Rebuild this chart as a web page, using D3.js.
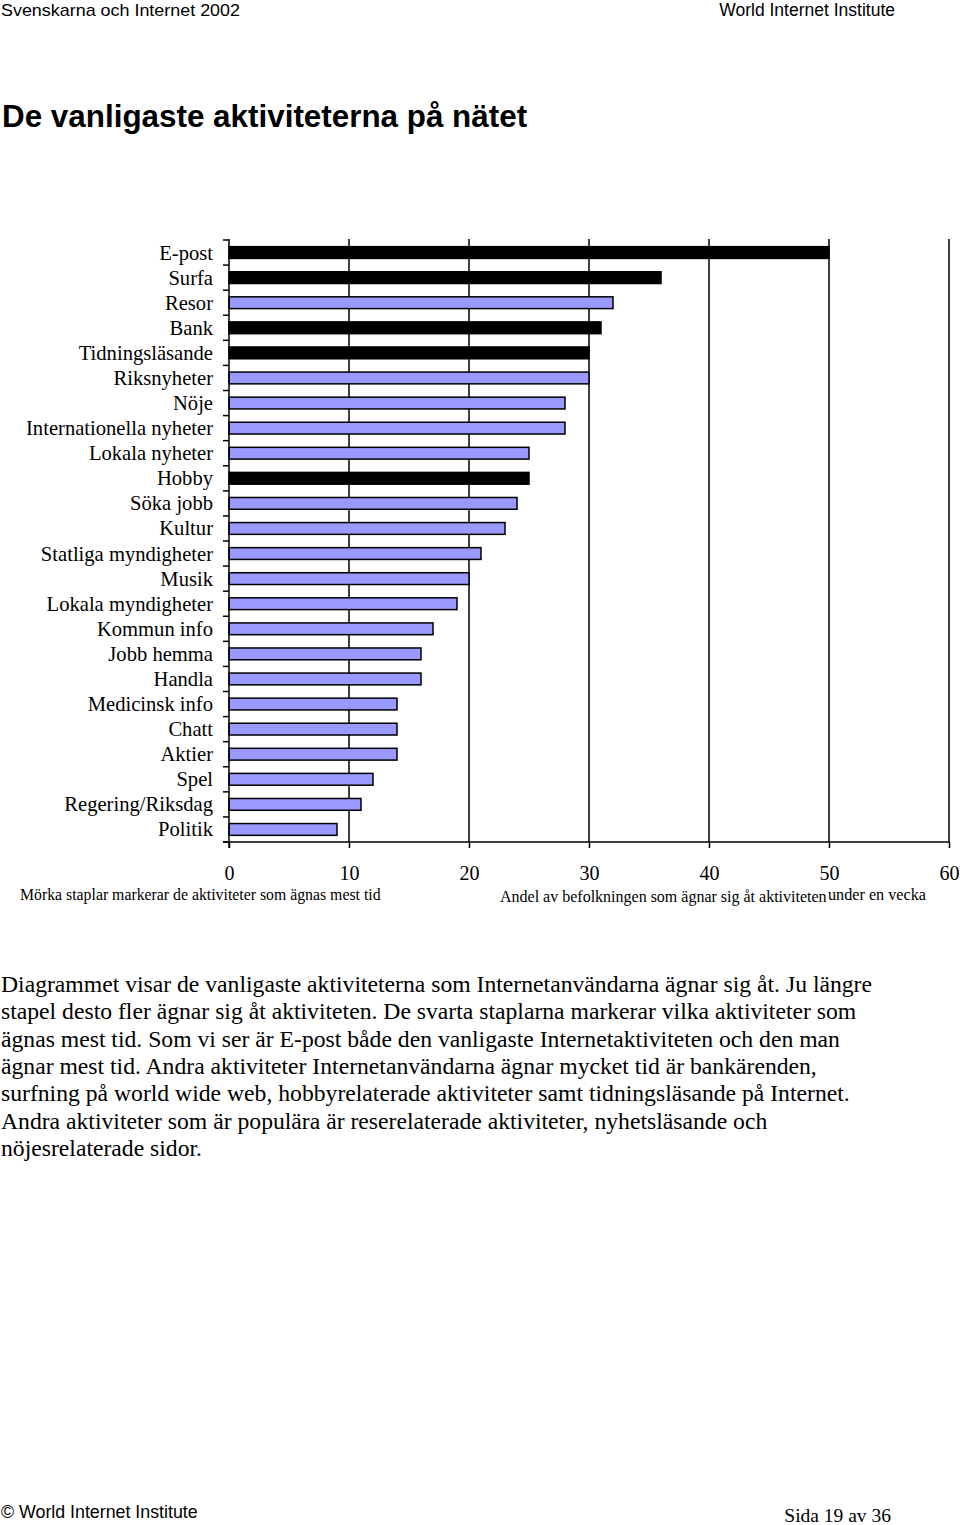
<!DOCTYPE html>
<html>
<head>
<meta charset="utf-8">
<script src="https://cdn.jsdelivr.net/npm/d3@7/dist/d3.min.js"></script>
<style>
html,body{margin:0;padding:0;background:#fff;}
svg{display:block;}
</style>
</head>
<body>
<script>
const categories = ["E-post","Surfa","Resor","Bank","Tidningsläsande","Riksnyheter","Nöje","Internationella nyheter","Lokala nyheter","Hobby","Söka jobb","Kultur","Statliga myndigheter","Musik","Lokala myndigheter","Kommun info","Jobb hemma","Handla","Medicinsk info","Chatt","Aktier","Spel","Regering/Riksdag","Politik"];
const values = [50,36,32,31,30,30,28,28,25,25,24,23,21,20,19,17,16,16,14,14,14,12,11,9];
const mostTime = ["E-post","Surfa","Bank","Tidningsläsande","Hobby"];
const xTicks = [0,10,20,30,40,50,60];
const paragraph = [
 "Diagrammet visar de vanligaste aktiviteterna som Internetanvändarna ägnar sig åt. Ju längre",
 "stapel desto fler ägnar sig åt aktiviteten. De svarta staplarna markerar vilka aktiviteter som",
 "ägnas mest tid. Som vi ser är E-post både den vanligaste Internetaktiviteten och den man",
 "ägnar mest tid. Andra aktiviteter Internetanvändarna ägnar mycket tid är bankärenden,",
 "surfning på world wide web, hobbyrelaterade aktiviteter samt tidningsläsande på Internet.",
 "Andra aktiviteter som är populära är reserelaterade aktiviteter, nyhetsläsande och",
 "nöjesrelaterade sidor."
];

const W = 960, H = 1525;
const svg = d3.select("body").append("svg").attr("width", W).attr("height", H);
const sans = "'Liberation Sans', Arial, sans-serif";
const serif = "'Liberation Serif', 'Times New Roman', serif";

// header
svg.append("text").attr("x",1).attr("y",16).attr("font-family",sans).attr("font-size",17)
  .attr("textLength",239).attr("lengthAdjust","spacingAndGlyphs").text("Svenskarna och Internet 2002");
svg.append("text").attr("x",895).attr("y",16).attr("text-anchor","end").attr("font-family",sans).attr("font-size",17.5)
  .text("World Internet Institute");

// title
svg.append("text").attr("x",2).attr("y",127).attr("font-family",sans).attr("font-size",31.4).attr("font-weight","bold")
  .text("De vanligaste aktiviteterna på nätet");

// chart
const x0 = 229, x1 = 949, yTop = 240, yBot = 842;
const x = d3.scaleLinear().domain([0,60]).range([x0,x1]);
const y = d3.scaleBand().domain(categories).range([yTop,yBot]).paddingInner(0.53).paddingOuter(0.265);
const yb = d3.scaleBand().domain(categories).range([yTop,yBot]);

const g = svg.append("g");

// gridlines
g.selectAll("line.grid").data(xTicks.filter(d=>d>0)).join("line")
  .attr("x1",d=>x(d)).attr("x2",d=>x(d)).attr("y1",yTop-1).attr("y2",yBot)
  .attr("stroke","#000").attr("stroke-width",1.5);

// bars
g.selectAll("rect.bar").data(categories).join("rect")
  .attr("x",x(0)).attr("y",d=>y(d))
  .attr("width",(d,i)=>x(values[i])-x(0))
  .attr("height",y.bandwidth())
  .attr("fill",d=>mostTime.includes(d)?"#000":"#9999FF")
  .attr("stroke","#000").attr("stroke-width",1.5);

// y axis
g.append("line").attr("x1",x0).attr("x2",x0).attr("y1",yTop-1).attr("y2",yBot+6)
  .attr("stroke","#000").attr("stroke-width",1.5);
const bounds = categories.map(d=>yb(d)).concat([yBot]);
g.selectAll("line.ytick").data(bounds).join("line")
  .attr("x1",x0-6).attr("x2",x0).attr("y1",d=>d).attr("y2",d=>d)
  .attr("stroke","#000").attr("stroke-width",1.5);

// y labels
g.selectAll("text.ylab").data(categories).join("text")
  .attr("x",213).attr("y",d=>yb(d)+yb.bandwidth()/2+7)
  .attr("text-anchor","end").attr("font-family",serif).attr("font-size",20.6).text(d=>d);

// x axis
const xAxis = d3.axisBottom(x).tickValues(xTicks).tickSize(6).tickPadding(17.5).tickFormat(d3.format("d"));
const ax = svg.append("g").attr("transform",`translate(0,${yBot})`).call(xAxis);
ax.select(".domain").attr("d",`M${x0-6},0H${x1}`).attr("stroke","#000").attr("stroke-width",1.5);
ax.selectAll(".tick line").attr("stroke","#000").attr("stroke-width",1.5);
ax.selectAll(".tick text").attr("font-family",serif).attr("font-size",20).attr("fill","#000");

// notes
svg.append("text").attr("x",20).attr("y",900).attr("font-family",serif).attr("font-size",15.8)
  .text("Mörka staplar markerar de aktiviteter som ägnas mest tid");
svg.append("text").attr("x",500).attr("y",902).attr("font-family",serif).attr("font-size",16)
  .text("Andel av befolkningen som ägnar sig åt aktiviteten");
svg.append("text").attr("x",828).attr("y",900).attr("font-family",serif).attr("font-size",16.2)
  .text("under en vecka");

// paragraph
const para = svg.selectAll("text.para").data(paragraph).join("text")
  .attr("class","para")
  .attr("x",1).attr("y",(d,i)=>992+i*27.3)
  .attr("font-family",serif).attr("font-size",22.5).text(d=>d);
const firstW = para.nodes()[0].getComputedTextLength();
const k = 871 / firstW;
para.each(function(){
  const w = this.getComputedTextLength();
  d3.select(this).attr("textLength", w*k).attr("lengthAdjust","spacingAndGlyphs");
});

// footer
svg.append("text").attr("x",1).attr("y",1518).attr("font-family",sans).attr("font-size",17.8)
  .text("© World Internet Institute");
svg.append("text").attr("x",891).attr("y",1522).attr("text-anchor","end").attr("font-family",serif).attr("font-size",19.5)
  .text("Sida 19 av 36");
</script>
</body>
</html>
